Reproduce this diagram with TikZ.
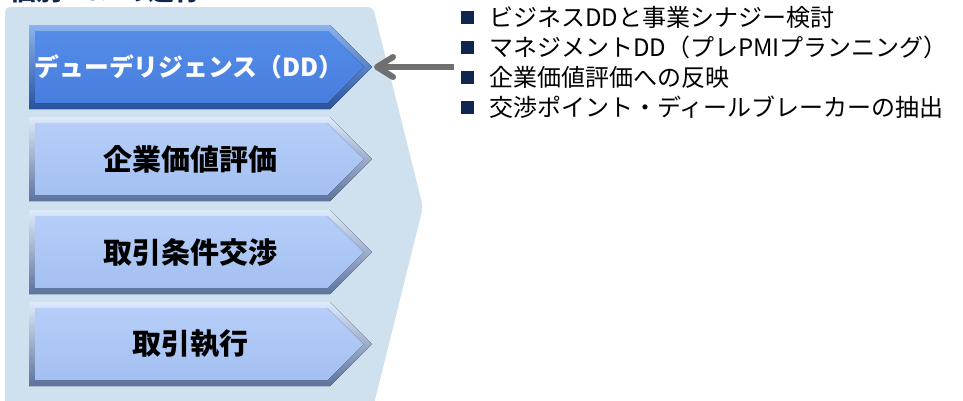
\documentclass[tikz,border=0pt]{standalone}
\usepackage{fontspec}
\newfontfamily\jp{Noto Sans CJK JP}
\usetikzlibrary{arrows.meta}
\definecolor{bgblue}{RGB}{207,224,239}
\definecolor{navy}{RGB}{16,38,80}
\definecolor{arrgray}{RGB}{112,112,112}
\definecolor{lbTop}{RGB}{222,234,252}
\definecolor{lbBot}{RGB}{92,114,156}
\definecolor{lfTop}{RGB}{182,206,248}
\definecolor{lfBot}{RGB}{164,192,242}
\definecolor{dbTop}{RGB}{140,178,240}
\definecolor{dbBot}{RGB}{40,82,158}
\definecolor{dfTop}{RGB}{84,140,232}
\definecolor{dfBot}{RGB}{72,126,222}
\tikzset{
  boxtext/.style={font=\jp\bfseries\fontsize{29}{32}\selectfont, inner sep=0pt},
  bultext/.style={font=\jp\fontsize{24}{28}\selectfont, anchor=west, inner sep=0pt},
  sq/.style={fill=navy, minimum size=13pt, inner sep=0pt},
  arr/.style={draw=arrgray, line width=6pt, -{Straight Barb[length=16pt,width=20pt,round]}},
}
\newcommand\mychev[5]{%
  \fill[top color=#2,bottom color=#3] (29,#1) -- (330,#1) -- (372,#1+42) -- (330,#1+84) -- (29,#1+84) -- cycle;
  \fill[top color=#4,bottom color=#5] (35,#1+6) -- (327.5,#1+6) -- (363.5,#1+42) -- (327.5,#1+78) -- (35,#1+78) -- cycle;
}
\begin{document}
\begin{tikzpicture}[x=1pt,y=-1pt]
\useasboundingbox (0,0) rectangle (963,400);
% title (cut off at top)
\node[font=\jp\bfseries\fontsize{26}{28}\selectfont, text=navy, anchor=base west, inner sep=0pt] (title) at (10,0) {個別M\&Aの遂行};
% background pentagon
\fill[bgblue, rounded corners=5pt] (5,420) -- (5,7) -- (373,7) -- (423,207) [sharp corners] -- (370,420) -- cycle;
% chevrons
\mychev{25}{dbTop}{dbBot}{dfTop}{dfBot}
\mychev{117}{lbTop}{lbBot}{lfTop}{lfBot}
\mychev{210}{lbTop}{lbBot}{lfTop}{lfBot}
\mychev{302}{lbTop}{lbBot}{lfTop}{lfBot}
\node[boxtext, text=white, font=\jp\bfseries\fontsize{24.8}{30}\selectfont] (dd) at (189,67) {デューデリジェンス（DD）};
\node[boxtext] (val) at (190,159) {企業価値評価};
\node[boxtext] (neg) at (190,252) {取引条件交渉};
\node[boxtext] (exe) at (190,344) {取引執行};
% arrow
\coordinate (tip1) at (374,67);
\coordinate (astart) at (454,67);
\draw[arr] (astart) -- (tip1);
% bullets
\node[sq] (s1) at (467,17) {};
\node[sq] (s2) at (467,47) {};
\node[sq] (s3) at (467,77) {};
\node[sq] (s4) at (467,107) {};
\node[bultext] (t1) at (489,17) {ビジネスDDと事業シナジー検討};
\node[bultext] (t2) at (489,47) {マネジメントDD（プレPMIプランニング）};
\node[bultext] (t3) at (489,77) {企業価値評価への反映};
\node[bultext] (t4) at (489,107) {交渉ポイント・ディールブレーカーの抽出};
\end{tikzpicture}
\end{document}
